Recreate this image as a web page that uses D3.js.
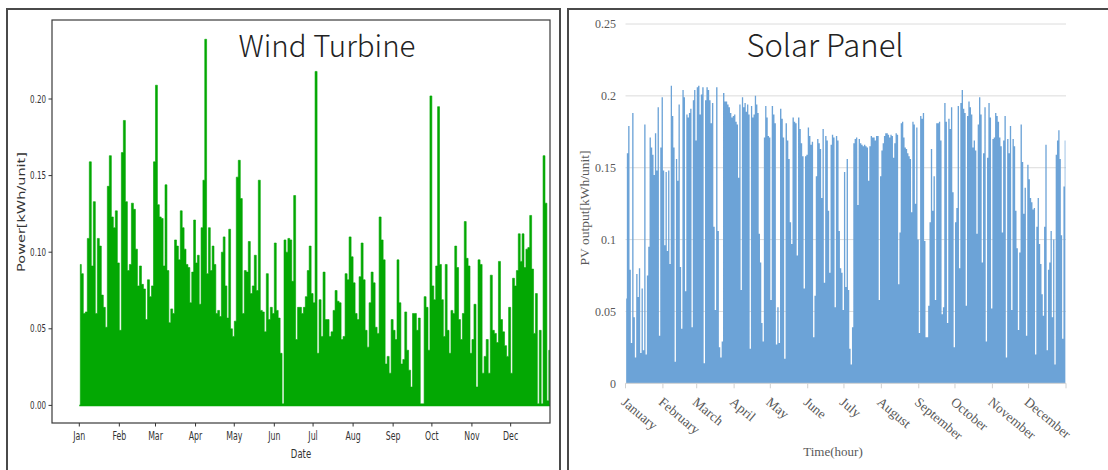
<!DOCTYPE html>
<html>
<head>
<meta charset="utf-8">
<script src="https://cdn.jsdelivr.net/npm/d3@7"></script>
<style>
  body { margin: 0; background: #fff; }
  svg { display: block; }
</style>
</head>
<body>
<svg id="fig" width="1108" height="470"></svg>
<script>
// ---- axis labels ----
const windMonthLabels = ["Jan","Feb","Mar","Apr","May","Jun","Jul","Aug","Sep","Oct","Nov","Dec"];
const solarMonthLabels = ["January","February","March","April","May","June","July","August","September","October","November","December"];
const monthDays = [31,28,31,30,31,30,31,31,30,31,30,31];
const windYTicks = [0, 0.05, 0.10, 0.15, 0.20];
const solarYTicks = [0, 0.05, 0.1, 0.15, 0.2, 0.25];
const solarYLabels = ["0","0.05","0.1","0.15","0.2","0.25"];

// ---- wind turbine: peak output per period, kWh/unit ----
const windJan = [0.092,0.086,0.060,0.061,0.109,0.159,0.091,0.133,0.060,0.109,0.104,0.072,0.064,0.051,0.143,0.163,0.123,0.116,0.127,0.093];
const windFeb = [0.049,0.165,0.186,0.133,0.088,0.092,0.132,0.128,0.102,0.078,0.091,0.079,0.076,0.056,0.082,0.071,0.078,0.159];
const windMar = [0.209,0.131,0.123,0.122,0.091,0.144,0.088,0.054,0.063,0.060,0.108,0.104,0.095,0.127,0.116,0.102,0.092,0.090,0.067,0.087,0.121];
const windApr = [0.093,0.098,0.066,0.116,0.147,0.239,0.086,0.116,0.088,0.104,0.092,0.060,0.062,0.058,0.100,0.110,0.078,0.057,0.115,0.050,0.045];
const windMay = [0.055,0.149,0.160,0.135,0.060,0.088,0.087,0.107,0.073,0.078,0.098,0.075,0.147,0.062,0.061,0.048,0.086,0.056,0.064,0.060];
const windJun = [0.106,0.062,0.057,0.034,0.001,0.108,0.100,0.109,0.108,0.081,0.137,0.043,0.064,0.064,0.060,0.064,0.071,0.088,0.104,0.073];
const windJul = [0.067,0.218,0.034,0.069,0.045,0.087,0.056,0.056,0.045,0.048,0.062,0.075,0.068,0.067,0.043,0.045,0.086,0.082,0.110,0.097];
const windAug = [0.080,0.060,0.056,0.084,0.106,0.082,0.049,0.038,0.067,0.087,0.080,0.051,0.047,0.123,0.108,0.095,0.027,0.032,0.021,0.056];
const windSep = [0.049,0.043,0.095,0.067,0.027,0.030,0.061,0.036,0.023,0.012,0.060,0.060,0.049,0.057,0.001,0.001,0.071,0.064,0.036,0.202];
const windOct = [0.078,0.069,0.091,0.195,0.092,0.069,0.045,0.092,0.049,0.034,0.062,0.060,0.104,0.090,0.056,0.043,0.060,0.120,0.096,0.091,0.034];
const windNov = [0.043,0.066,0.012,0.095,0.092,0.021,0.032,0.043,0.021,0.085,0.049,0.047,0.041,0.094,0.056,0.048,0.039,0.032,0.064];
const windDec = [0.021,0.083,0.078,0.088,0.112,0.094,0.112,0.090,0.102,0.103,0.124,0.089,0.047,0.073,0.001,0.049,0.001,0.163,0.132,0.003,0.036];

// ---- solar panel: daily peak PV output, kWh/unit ----
const solarJan = [0.059,0.160,0.179,0.079,0.028,0.188,0.046,0.018,0.076,0.060,0.080,0.021,0.066,0.023,0.180,0.020,0.075,0.095,0.171,0.164,0.159,0.145,0.174,0.148,0.192,0.033,0.164,0.199];
const solarFeb = [0.148,0.096,0.147,0.092,0.148,0.083,0.207,0.186,0.164,0.015,0.156,0.141,0.194,0.081,0.038,0.204,0.199,0.064,0.187,0.185,0.188,0.191,0.039,0.197,0.204,0.169];
const solarMar = [0.206,0.207,0.187,0.201,0.206,0.014,0.197,0.206,0.204,0.197,0.181,0.195,0.109,0.051,0.206,0.106,0.025,0.018,0.029,0.202,0.196,0.196,0.194,0.192,0.188,0.185,0.186];
const solarApr = [0.187,0.182,0.180,0.143,0.194,0.065,0.199,0.192,0.195,0.189,0.194,0.187,0.024,0.193,0.185,0.187,0.200,0.194,0.188,0.104,0.084,0.042,0.029,0.171,0.193,0.185,0.172,0.171];
const solarMay = [0.058,0.193,0.187,0.181,0.027,0.053,0.028,0.191,0.184,0.171,0.017,0.181,0.169,0.156,0.112,0.097,0.185,0.182,0.181,0.089,0.185,0.177,0.167,0.158,0.066,0.158,0.159];
const solarJun = [0.178,0.172,0.166,0.168,0.032,0.061,0.144,0.170,0.167,0.163,0.129,0.177,0.070,0.172,0.169,0.120,0.077,0.166,0.173,0.171,0.053,0.172,0.169,0.106,0.080,0.077,0.051];
const solarJul = [0.147,0.067,0.156,0.065,0.024,0.013,0.039,0.167,0.170,0.171,0.124,0.170,0.167,0.166,0.165,0.166,0.165,0.164,0.141,0.165,0.172,0.171,0.171,0.169,0.172,0.172,0.058,0.144];
const solarAug = [0.162,0.167,0.172,0.174,0.174,0.173,0.171,0.173,0.172,0.157,0.167,0.174,0.173,0.069,0.105,0.181,0.182,0.171,0.164,0.163,0.160,0.158,0.156,0.119,0.182,0.180,0.125,0.178,0.100];
const solarSep = [0.035,0.186,0.184,0.188,0.099,0.032,0.032,0.054,0.112,0.163,0.120,0.144,0.058,0.181,0.181,0.182,0.169,0.048,0.053,0.195,0.182,0.042,0.184,0.177,0.192,0.133,0.025];
const solarOct = [0.112,0.122,0.193,0.080,0.195,0.204,0.191,0.188,0.054,0.186,0.196,0.192,0.187,0.164,0.169,0.162,0.104,0.180,0.199,0.187,0.084,0.160,0.192,0.029,0.157,0.195,0.185,0.052];
const solarNov = [0.170,0.171,0.188,0.186,0.182,0.171,0.165,0.105,0.169,0.186,0.018,0.170,0.160,0.179,0.051,0.170,0.165,0.120,0.094,0.037,0.091,0.180,0.154,0.118,0.136,0.033,0.152];
const solarDec = [0.142,0.129,0.126,0.121,0.122,0.020,0.109,0.129,0.097,0.083,0.062,0.047,0.109,0.166,0.023,0.079,0.084,0.106,0.046,0.100,0.013,0.159,0.169,0.176,0.156,0.103,0.031,0.137,0.169];

const windByMonth = [windJan,windFeb,windMar,windApr,windMay,windJun,windJul,windAug,windSep,windOct,windNov,windDec];
const solarByMonth = [solarJan,solarFeb,solarMar,solarApr,solarMay,solarJun,solarJul,solarAug,solarSep,solarOct,solarNov,solarDec];

// day-of-year where each month begins (13 entries, last = 365)
const monthStart = Array.from(d3.cumsum([0, ...monthDays]));

// spread each month's readings evenly across that month
function toSeries(byMonth) {
  const pts = [];
  byMonth.forEach((vals, m) => {
    const n = vals.length, len = monthDays[m];
    vals.forEach((v, i) => pts.push({ day: monthStart[m] + (i + 0.5) * len / n, v }));
  });
  return pts;
}

const svg = d3.select("#fig");
const GREEN = "#03a803";
const BLUE = "#6ca3d7";
const mplFont = "'DejaVu Sans',sans-serif";
const serif = "'Liberation Serif','Times New Roman',serif";
const titleFont = "'Noto Sans CJK JP','Noto Sans',sans-serif";
const SQUEEZE = 0.68;   // the matplotlib panel is laid out narrow, text included

// panel frames
svg.append("rect").attr("x", 7).attr("y", 9).attr("width", 553).attr("height", 500)
  .attr("fill", "none").attr("stroke", "#4a4a4a").attr("stroke-width", 2);
svg.append("rect").attr("x", 568).attr("y", 9).attr("width", 600).attr("height", 500)
  .attr("fill", "none").attr("stroke", "#4a4a4a").attr("stroke-width", 2);

// ================= Wind Turbine =================
const W = { left: 52, right: 550, top: 20, bottom: 423 };
const xW = d3.scaleLinear().domain([0, 365]).range([79.3, 550.7]);
const yW = d3.scaleLinear().domain([0, 0.2]).range([405.4, 99]);

svg.append("clipPath").attr("id", "clipW").append("rect")
  .attr("x", W.left).attr("y", W.top).attr("width", W.right - W.left).attr("height", W.bottom - W.top);

const gW = svg.append("g").attr("clip-path", "url(#clipW)");
const windSeries = toSeries(windByMonth);
gW.append("path").datum(windSeries)
  .attr("fill", GREEN).attr("stroke", GREEN).attr("stroke-width", 0.6)
  .attr("d", d3.area().curve(d3.curveStep)
    .x(d => xW(d.day)).y0(yW(0)).y1(d => yW(d.v)));
gW.append("line")
  .attr("x1", xW(0)).attr("x2", xW(365)).attr("y1", yW(0)).attr("y2", yW(0))
  .attr("stroke", GREEN).attr("stroke-width", 1.5);

svg.append("rect").attr("x", W.left).attr("y", W.top)
  .attr("width", W.right - W.left).attr("height", W.bottom - W.top)
  .attr("fill", "none").attr("stroke", "#3a3a3a").attr("stroke-width", 1.2);

// y ticks
const gYT = svg.append("g");
gYT.selectAll("line").data(windYTicks).join("line")
  .attr("x1", W.left - 3.5).attr("x2", W.left).attr("y1", d => yW(d)).attr("y2", d => yW(d))
  .attr("stroke", "#333");
gYT.selectAll("text").data(windYTicks).join("text")
  .attr("transform", d => `translate(${W.left - 6},${yW(d)}) scale(${SQUEEZE},1)`)
  .attr("dy", "0.35em").attr("text-anchor", "end")
  .attr("font-family", mplFont).attr("font-size", 10.5).attr("fill", "#333")
  .text(d3.format(".2f"));

// x ticks
const gXT = svg.append("g");
gXT.selectAll("line").data(monthStart.slice(0, 12)).join("line")
  .attr("x1", d => xW(d)).attr("x2", d => xW(d)).attr("y1", W.bottom).attr("y2", W.bottom + 3.5)
  .attr("stroke", "#333");
gXT.selectAll("text").data(windMonthLabels).join("text")
  .attr("transform", (d, i) => `translate(${xW(monthStart[i])},${W.bottom + 17}) scale(${SQUEEZE},1)`)
  .attr("text-anchor", "middle")
  .attr("font-family", mplFont).attr("font-size", 11.5).attr("fill", "#333")
  .text(d => d);

svg.append("text").attr("transform", `translate(301,458) scale(${SQUEEZE},1)`).attr("text-anchor", "middle")
  .attr("font-family", mplFont).attr("font-size", 12.5).attr("fill", "#333").text("Date");
svg.append("text").attr("transform", `translate(25,212) scale(${SQUEEZE},1) rotate(-90)`).attr("text-anchor", "middle")
  .attr("font-family", mplFont).attr("font-size", 14.5).attr("fill", "#333").text("Power[kWh/unit]");
svg.append("text").attr("x", 327).attr("y", 57).attr("text-anchor", "middle")
  .attr("font-family", titleFont).attr("font-weight", 300).attr("font-size", 29.5).attr("fill", "#222")
  .text("Wind Turbine");

// ================= Solar Panel =================
const xS = d3.scaleLinear().domain([0, 365]).range([625.5, 1066]);
const yS = d3.scaleLinear().domain([0, 0.25]).range([383.3, 24]);

svg.append("g").selectAll("line").data(solarYTicks.filter(t => t > 0)).join("line")
  .attr("x1", xS(0)).attr("x2", xS(365)).attr("y1", d => yS(d)).attr("y2", d => yS(d))
  .attr("stroke", "#dcdcdc").attr("stroke-width", 1);

const solarSeries = toSeries(solarByMonth);
svg.append("path").datum(solarSeries)
  .attr("fill", BLUE)
  .attr("d", d3.area().curve(d3.curveStep)
    .x(d => xS(d.day)).y0(yS(0)).y1(d => yS(d.v)));

svg.append("line").attr("x1", xS(0)).attr("x2", xS(365)).attr("y1", yS(0)).attr("y2", yS(0))
  .attr("stroke", "#d0d0d0").attr("stroke-width", 1);
svg.append("g").selectAll("line").data(monthStart).join("line")
  .attr("x1", d => xS(d)).attr("x2", d => xS(d)).attr("y1", yS(0)).attr("y2", yS(0) + 5)
  .attr("stroke", "#d0d0d0").attr("stroke-width", 1);

svg.append("g").selectAll("text").data(solarYTicks).join("text")
  .attr("x", 616).attr("y", d => yS(d)).attr("dy", "0.35em").attr("text-anchor", "end")
  .attr("font-family", serif).attr("font-size", 12).attr("fill", "#595959")
  .text((d, i) => solarYLabels[i]);

svg.append("g").selectAll("text").data(solarMonthLabels).join("text")
  .attr("transform", (d, i) => `translate(${xS(monthStart[i]) + 1},${yS(0) + 13}) rotate(40)`)
  .attr("dy", "0.7em")
  .attr("font-family", serif).attr("font-size", 13.5).attr("fill", "#595959")
  .text(d => d);

svg.append("text").attr("x", 833).attr("y", 456).attr("text-anchor", "middle")
  .attr("font-family", serif).attr("font-size", 13).attr("fill", "#595959").text("Time(hour)");
svg.append("text").attr("transform", "translate(589,208) rotate(-90)").attr("text-anchor", "middle")
  .attr("font-family", serif).attr("font-size", 13.5).attr("fill", "#595959").text("PV output[kWh/unit]");
svg.append("text").attr("x", 825).attr("y", 57).attr("text-anchor", "middle")
  .attr("font-family", titleFont).attr("font-weight", 300).attr("font-size", 31).attr("fill", "#222")
  .text("Solar Panel");
</script>
</body>
</html>
